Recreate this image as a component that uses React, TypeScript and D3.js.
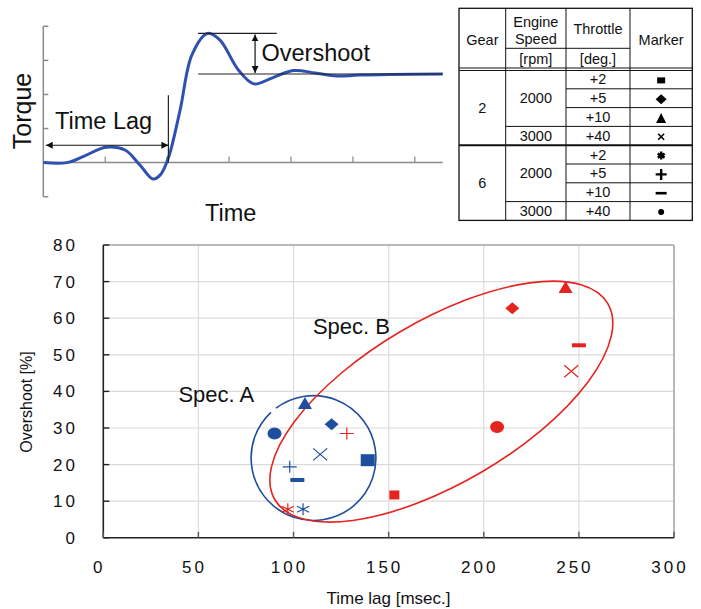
import React from 'react';
import * as d3 from 'd3';

// ---- main scatter: overshoot vs time lag ----
const markerTypes = ['square', 'diamond', 'triangle', 'cross', 'asterisk', 'plus', 'minus', 'dot'];
const specATimeLag = [139, 120, 106, 114, 105, 98, 102, 90];
const specAOvershoot = [21.2, 31.0, 36.8, 22.8, 7.8, 19.4, 15.8, 28.5];
const specBTimeLag = [153, 215, 243, 246, 97, 128, 250, 207];
const specBOvershoot = [11.7, 62.7, 68.5, 45.5, 7.8, 28.5, 52.6, 30.3];

const xTicks = [0, 50, 100, 150, 200, 250, 300];
const yTicks = [0, 10, 20, 30, 40, 50, 60, 70, 80];

// group outlines (data units)
const specACenter = [110.5, 21.8];
const specARadius = 32.8; // msec
const specBCenter = [177.7, 37.2];
const specBTip = [265.2, 64.0];
const specBRatio = 0.42;
const specLabels = [
  { text: 'Spec. A', t: 39.5, o: 37.1 },
  { text: 'Spec. B', t: 110.2, o: 55.6 },
];

// ---- inset: torque response ----
const stepTime = [0, 0.38, 0.67, 1.01, 1.32, 1.56, 1.77, 1.89, 2.02, 2.21, 2.4, 2.65, 2.85, 3.15, 3.4, 3.69, 4.04, 4.39, 4.74, 5.12, 6.45];
const stepTorque = [0, 0.0, 0.2, 0.45, 0.37, -0.07, -0.48, -0.36, 0.14, 1.55, 3.16, 3.79, 3.6, 2.72, 2.31, 2.48, 2.7, 2.63, 2.54, 2.57, 2.6];
const peakTorque = 3.79;
const settledTorque = 2.6;
const lagTime = 2.02;

// ---- condition table ----
const gears = ['2', '6'];
const speeds = ['2000', '3000'];
const throttles = ['+2', '+5', '+10', '+40'];

const BLUE = '#1f4e9f';
const RED = '#e5231f';
const FONT = '"Liberation Sans", Arial, sans-serif';

type Sz = { sq: [number, number]; w: number; h: number; sw: number; thin: boolean };

function glyph(type: string, cx: number, cy: number, color: string, s: Sz, key: string) {
  const hw = s.w / 2, hh = s.h / 2;
  switch (type) {
    case 'square':
      return <rect key={key} x={cx - s.sq[0] / 2} y={cy - s.sq[1] / 2} width={s.sq[0]} height={s.sq[1]} fill={color} />;
    case 'diamond':
      return <path key={key} d={`M${cx},${cy - hh}L${cx + hw},${cy}L${cx},${cy + hh}L${cx - hw},${cy}Z`} fill={color} />;
    case 'triangle':
      return <path key={key} d={`M${cx},${cy - hh}L${cx + hw},${cy + hh}L${cx - hw},${cy + hh}Z`} fill={color} />;
    case 'dot':
      return <ellipse key={key} cx={cx} cy={cy} rx={hw} ry={hh} fill={color} />;
    case 'minus':
      return <rect key={key} x={cx - hw} y={cy - s.sw / 2} width={s.w} height={s.sw} fill={color} />;
    case 'cross':
      return (
        <path key={key} d={`M${cx - hw},${cy - hh}L${cx + hw},${cy + hh}M${cx - hw},${cy + hh}L${cx + hw},${cy - hh}`}
          stroke={color} strokeWidth={s.thin ? 1.2 : s.sw} fill="none" />
      );
    case 'plus':
      return (
        <path key={key} d={`M${cx - hw},${cy}L${cx + hw},${cy}M${cx},${cy - hh}L${cx},${cy + hh}`}
          stroke={color} strokeWidth={s.thin ? 1.2 : s.sw} fill="none" />
      );
    case 'asterisk': {
      const a = Math.cos(Math.PI / 6) * hw, b = Math.sin(Math.PI / 6) * hh;
      return (
        <path key={key}
          d={`M${cx},${cy - hh}L${cx},${cy + hh}M${cx - a},${cy - b}L${cx + a},${cy + b}M${cx - a},${cy + b}L${cx + a},${cy - b}`}
          stroke={color} strokeWidth={s.thin ? 1.2 : s.sw} fill="none" />
      );
    }
  }
  return null;
}

export default function App() {
  // main chart scales
  const x = d3.scaleLinear().domain([0, 300]).range([103.3, 674]);
  const y = d3.scaleLinear().domain([0, 80]).range([537.8, 245]);

  // inset scales
  const ix = d3.scaleLinear().domain([0, 6.45]).range([43.3, 442.7]);
  const iy = d3.scaleLinear().domain([-1, 4]).range([196.7, 26.3]);

  const stepLine = d3.line<number>()
    .x((d, i) => ix(stepTime[i]))
    .y(d => iy(d))
    .curve(d3.curveCatmullRom.alpha(0.5));

  // spec A circle with a small gap
  const acx = x(specACenter[0]), acy = y(specACenter[1]);
  const ar = x(specACenter[0] + specARadius) - acx;
  const a0 = (-127 * Math.PI) / 180, a1 = (227 * Math.PI) / 180;
  const circ = d3.path();
  circ.moveTo(acx + ar * Math.cos(a0), acy + ar * Math.sin(a0));
  circ.arc(acx, acy, ar, a0, a1, false);

  // spec B ellipse
  const bcx = x(specBCenter[0]), bcy = y(specBCenter[1]);
  const btx = x(specBTip[0]), bty = y(specBTip[1]);
  const brx = Math.hypot(btx - bcx, bty - bcy);
  const bry = brx * specBRatio;
  const bang = (Math.atan2(bty - bcy, btx - bcx) * 180) / Math.PI;

  const plotSz = (sq: [number, number]): Sz => ({ sq, w: 14, h: 12, sw: 4, thin: true });

  // table geometry
  const cols = [459, 505.7, 566, 630, 692.3];
  const tTop = 8.3, tSub = 48.3, tHead = 70, rowH = 18.8;
  const rowY = (r: number) => tHead + r * rowH;
  const tableSz: Record<string, Sz> = {
    square: { sq: [8, 6], w: 8, h: 6, sw: 2, thin: false },
    diamond: { sq: [0, 0], w: 11, h: 10, sw: 2, thin: false },
    triangle: { sq: [0, 0], w: 10, h: 10, sw: 2, thin: false },
    cross: { sq: [0, 0], w: 6, h: 6, sw: 1.6, thin: false },
    asterisk: { sq: [0, 0], w: 8, h: 8, sw: 2.4, thin: false },
    plus: { sq: [0, 0], w: 11, h: 11, sw: 2.4, thin: false },
    minus: { sq: [0, 0], w: 11, h: 11, sw: 2.6, thin: false },
    dot: { sq: [0, 0], w: 6, h: 6, sw: 2, thin: false },
  };
  const colMid = (c: number) => (cols[c] + cols[c + 1]) / 2;

  return (
    <svg width={701} height={609} style={{ position: 'absolute', left: 0, top: 0, background: '#fff' }}
      fontFamily={FONT}>
      <defs>
        <marker id="ah" viewBox="0 0 10 10" refX="10" refY="5" markerWidth="7" markerHeight="7" orient="auto-start-reverse"
          markerUnits="userSpaceOnUse">
          <path d="M0,0L10,5L0,10Z" fill="#111" />
        </marker>
      </defs>

      {/* ===== inset response ===== */}
      <g>
        <line x1={ix(0)} x2={ix(0)} y1={iy(-1)} y2={iy(4)} stroke="#8a8a8a" strokeWidth={1.5} />
        {[-1, 1, 2, 3, 4].map(t => (
          <line key={t} x1={ix(0)} x2={ix(0) + 5} y1={iy(t)} y2={iy(t)} stroke="#8a8a8a" strokeWidth={1.5} />
        ))}
        <line x1={ix(0)} x2={ix(6.45)} y1={iy(0)} y2={iy(0)} stroke="#8a8a8a" strokeWidth={1.5} />
        {[1, 2, 3, 4, 5, 6].map(t => (
          <line key={t} x1={ix(t)} x2={ix(t)} y1={iy(0)} y2={iy(0) - 6} stroke="#8a8a8a" strokeWidth={1.2} />
        ))}
        <path d={stepLine(stepTorque) || ''} fill="none" stroke="#2e50b0" strokeWidth={3} />
        <line x1={ix(2.5)} x2={ix(3.77)} y1={iy(peakTorque)} y2={iy(peakTorque)} stroke="#222" strokeWidth={1.2} />
        <line x1={ix(2.5)} x2={ix(6.45)} y1={iy(settledTorque)} y2={iy(settledTorque)} stroke="#222" strokeWidth={1.2} />
        <line x1={ix(3.42)} x2={ix(3.42)} y1={iy(peakTorque) + 1} y2={iy(settledTorque) - 1} stroke="#111" strokeWidth={1.2}
          markerStart="url(#ah)" markerEnd="url(#ah)" />
        <line x1={ix(lagTime)} x2={ix(lagTime)} y1={iy(0)} y2={iy(1.98)} stroke="#222" strokeWidth={1.2} />
        <line x1={ix(0.04)} x2={ix(lagTime)} y1={iy(0.51)} y2={iy(0.51)} stroke="#111" strokeWidth={1.2}
          markerStart="url(#ah)" markerEnd="url(#ah)" />
        <text x={261.5} y={61} fontSize={23.5} fill="#111">Overshoot</text>
        <text x={55} y={129.3} fontSize={23.5} fill="#111">Time Lag</text>
        <text x={205} y={220.7} fontSize={23.5} fill="#111">Time</text>
        <text transform="translate(30.8,111) rotate(-90)" textAnchor="middle" fontSize={25} fill="#111">Torque</text>
      </g>

      {/* ===== condition table ===== */}
      <g fontSize={14.5} fill="#111" textAnchor="middle">
        <rect x={cols[0]} y={tTop} width={cols[4] - cols[0]} height={rowY(8) - tTop} fill="none" stroke="#111" strokeWidth={1.3} />
        {[1, 2, 3].map(c => (
          <line key={c} x1={cols[c]} x2={cols[c]} y1={tTop} y2={rowY(8)} stroke="#111" strokeWidth={1} />
        ))}
        <line x1={cols[1]} x2={cols[3]} y1={tSub} y2={tSub} stroke="#111" strokeWidth={1} />
        <line x1={cols[0]} x2={cols[4]} y1={tHead - 2} y2={tHead - 2} stroke="#111" strokeWidth={1} />
        <line x1={cols[0]} x2={cols[4]} y1={tHead + 0.5} y2={tHead + 0.5} stroke="#111" strokeWidth={1.2} />
        {gears.map((g, gi) => (
          <g key={g}>
            {[1, 2, 3].map(r => (
              <line key={r} x1={r === 3 ? cols[1] : cols[2]} x2={cols[4]} y1={rowY(gi * 4 + r)} y2={rowY(gi * 4 + r)}
                stroke="#111" strokeWidth={1} />
            ))}
            {gi > 0 && <line x1={cols[0]} x2={cols[4]} y1={rowY(4)} y2={rowY(4)} stroke="#111" strokeWidth={2} />}
            <text x={colMid(0)} y={rowY(gi * 4 + 2) + 5}>{g}</text>
            <text x={colMid(1)} y={rowY(gi * 4 + 1.5) + 5}>{speeds[0]}</text>
            <text x={colMid(1)} y={rowY(gi * 4 + 3.5) + 5}>{speeds[1]}</text>
            {throttles.map((t, ti) => (
              <text key={t} x={colMid(2)} y={rowY(gi * 4 + ti + 0.5) + 5}>{t}</text>
            ))}
            {throttles.map((t, ti) => {
              const m = markerTypes[gi * 4 + ti];
              return glyph(m, colMid(3), rowY(gi * 4 + ti + 0.5) + 1, '#000', tableSz[m], 'm' + ti);
            })}
          </g>
        ))}
        <text x={colMid(0)} y={45}>Gear</text>
        <text x={colMid(1)} y={26.5}>Engine</text>
        <text x={colMid(1)} y={44}>Speed</text>
        <text x={colMid(1)} y={64}>[rpm]</text>
        <text x={colMid(2)} y={34}>Throttle</text>
        <text x={colMid(2)} y={64}>[deg.]</text>
        <text x={colMid(3)} y={45}>Marker</text>
      </g>

      {/* ===== main scatter ===== */}
      <g>
        {xTicks.slice(1).map(t => (
          <line key={t} x1={x(t)} x2={x(t)} y1={y(80)} y2={y(0)} stroke="#dcdcdc" strokeWidth={1.2} />
        ))}
        {yTicks.slice(1).map(t => (
          <line key={t} x1={x(0)} x2={x(300)} y1={y(t)} y2={y(t)} stroke="#dcdcdc" strokeWidth={1.2} />
        ))}
        <line x1={x(0)} x2={x(300)} y1={y(80)} y2={y(80)} stroke="#a8a8a8" strokeWidth={1.5} />
        <line x1={x(300)} x2={x(300)} y1={y(80)} y2={y(0)} stroke="#a8a8a8" strokeWidth={1.5} />
        <line x1={x(0)} x2={x(0)} y1={y(80)} y2={y(0)} stroke="#222" strokeWidth={1.6} />
        <line x1={x(0)} x2={x(300)} y1={y(0)} y2={y(0)} stroke="#222" strokeWidth={1.6} />
        {yTicks.map(t => (
          <line key={t} x1={x(0)} x2={x(0) + 6} y1={y(t)} y2={y(t)} stroke="#222" strokeWidth={1.4} />
        ))}
        {xTicks.map(t => (
          <line key={t} x1={x(t)} x2={x(t)} y1={y(0)} y2={y(0) - 6} stroke="#555" strokeWidth={1.4} />
        ))}
        {yTicks.map(t => (
          <text key={t} x={75} y={y(t) + 6} textAnchor="end" fontSize={17} letterSpacing={3} fill="#111"
            dx={3}>{t}</text>
        ))}
        {xTicks.map(t => (
          <text key={t} x={x(t) - 4} y={572.5} textAnchor="middle" fontSize={17} letterSpacing={3} fill="#111">{t}</text>
        ))}
        <text x={388.5} y={604} textAnchor="middle" fontSize={17} fill="#111">Time lag [msec.]</text>
        <text transform="translate(32,402) rotate(-90)" textAnchor="middle" fontSize={16} fill="#111">Overshoot [%]</text>

        {specLabels.map(l => (
          <text key={l.text} x={x(l.t)} y={y(l.o)} fontSize={22} fill="#111">{l.text}</text>
        ))}

        <path d={circ.toString()} fill="none" stroke={BLUE} strokeWidth={1.6} />
        <ellipse cx={bcx} cy={bcy} rx={brx} ry={bry} transform={`rotate(${bang},${bcx},${bcy})`}
          fill="none" stroke={RED} strokeWidth={1.6} />

        {markerTypes.map((m, i) => glyph(m, x(specATimeLag[i]), y(specAOvershoot[i]), BLUE, plotSz([14, 12]), 'a' + i))}
        {markerTypes.map((m, i) => glyph(m, x(specBTimeLag[i]), y(specBOvershoot[i]), RED, plotSz([10, 9]), 'b' + i))}
      </g>
    </svg>
  );
}
